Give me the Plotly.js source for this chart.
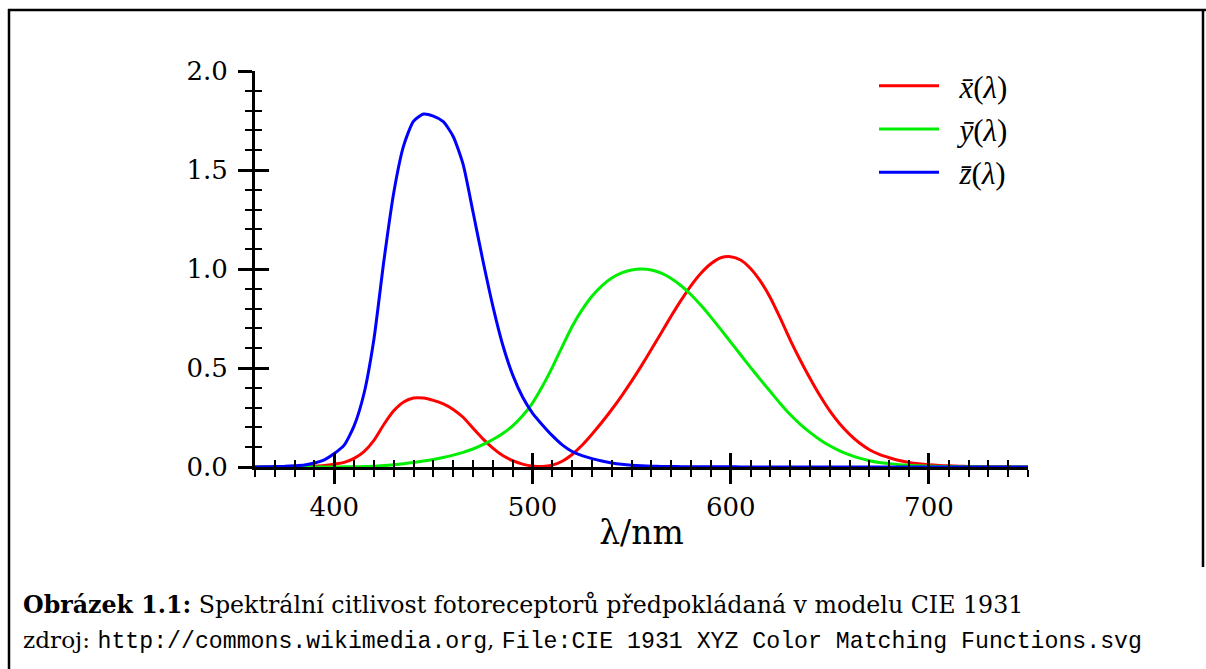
<!DOCTYPE html>
<html>
<head>
<meta charset="utf-8">
<script src="https://cdn.plot.ly/plotly-3.0.1.min.js"></script>
<style>html,body{margin:0;padding:0;background:#fff;}#chart{width:1206px;height:669px;}</style>
</head>
<body>
<div id="chart"></div>
<script>
// Wavelength (nm)
const wavelengths = [360,365,370,375,380,385,390,395,400,405,410,415,420,425,430,435,440,445,450,455,460,465,470,475,480,485,490,495,500,505,510,515,520,525,530,535,540,545,550,555,560,565,570,575,580,585,590,595,600,605,610,615,620,625,630,635,640,645,650,655,660,665,670,675,680,685,690,695,700,705,710,715,720,725,730,735,740,745,750];
// x̄(λ)
const xbar = [0.00013,0.00023,0.00042,0.00074,0.00137,0.00224,0.00424,0.00765,0.01431,0.02319,0.04351,0.07763,0.13438,0.21477,0.2839,0.3285,0.34828,0.34806,0.3362,0.3187,0.2908,0.2511,0.19536,0.1421,0.09564,0.05795,0.03201,0.0147,0.0049,0.0024,0.0093,0.0291,0.06327,0.1096,0.1655,0.22575,0.2904,0.3597,0.43345,0.51205,0.5945,0.6784,0.7621,0.8425,0.9163,0.9786,1.0263,1.0567,1.0622,1.0456,1.0026,0.9384,0.85445,0.7514,0.6424,0.5419,0.4479,0.3608,0.2835,0.2187,0.1649,0.1212,0.0874,0.0636,0.04677,0.0329,0.0227,0.01584,0.01136,0.00811,0.00579,0.00411,0.0029,0.00205,0.00144,0.001,0.00069,0.00048,0.00033];
// ȳ(λ)
const ybar = [0.000004,0.000007,0.000012,0.000022,0.000039,0.000064,0.00012,0.000217,0.000396,0.00064,0.00121,0.00218,0.004,0.0073,0.0116,0.01684,0.023,0.0298,0.038,0.048,0.06,0.0739,0.09098,0.1126,0.13902,0.1693,0.20802,0.2586,0.323,0.4073,0.503,0.6082,0.71,0.7932,0.862,0.91485,0.954,0.9803,0.99495,1.0,0.995,0.9786,0.952,0.9154,0.87,0.8163,0.757,0.6949,0.631,0.5668,0.503,0.4412,0.381,0.321,0.265,0.217,0.175,0.1382,0.107,0.0816,0.061,0.04458,0.032,0.0232,0.017,0.01192,0.00821,0.00572,0.0041,0.00293,0.00209,0.00148,0.00105,0.00074,0.00052,0.00036,0.00025,0.00017,0.00012];
// z̄(λ)
const zbar = [0.00061,0.00109,0.00195,0.00349,0.00645,0.01055,0.02005,0.03621,0.06785,0.1102,0.2074,0.3713,0.6456,1.03905,1.3856,1.62296,1.74706,1.7826,1.77211,1.7441,1.6692,1.5281,1.28764,1.0419,0.81295,0.6162,0.46518,0.3533,0.272,0.2123,0.1582,0.1117,0.07825,0.05725,0.04216,0.02984,0.0203,0.0134,0.00875,0.00575,0.0039,0.00275,0.0021,0.0018,0.00165,0.0014,0.0011,0.001,0.0008,0.0006,0.00034,0.00024,0.00019,0.0001,0.00005,0.00003,0.00002,0.00001,0,0,0,0,0,0,0,0,0,0,0,0,0,0,0,0,0,0,0,0,0];

const seriesNames = ['<i>x̄</i>(<i>λ</i>)', '<i>ȳ</i>(<i>λ</i>)', '<i>z̄</i>(<i>λ</i>)'];
const seriesColors = ['#ff0000', '#00ee00', '#0000ff'];
const xTickVals = [400, 500, 600, 700];
const yTickVals = [0, 0.5, 1.0, 1.5, 2.0];
const yTickText = ['0.0', '0.5', '1.0', '1.5', '2.0'];

const serif = '"DejaVu Serif", "Liberation Serif", serif';
const times = '"Liberation Serif", serif';

const seriesData = [xbar, ybar, zbar];
const traces = seriesData.map((vals, i) => ({
  type: 'scatter', mode: 'lines',
  x: wavelengths, y: vals,
  name: '\u2002' + seriesNames[i], legendgroup: 'g' + i,
  line: {color: seriesColors[i], width: 3, shape: 'spline', smoothing: 0.6},
  xaxis: 'x', yaxis: 'y', cliponaxis: false
}));

// plot area in pixels
const L = 255, R = 1028, T = 71, B = 467;
const W = R - L, H = B - T;
const px = v => (v - L) / W;
const py = v => (B - v) / H;

const baseX = {
  range: [360, 750], showgrid: false, zeroline: false,
  showline: true, linecolor: 'black', linewidth: 3,
  tickmode: 'array', tickvals: xTickVals,
  ticklen: 14, tickwidth: 3, tickcolor: 'black',
  minor: {dtick: 10, tick0: 0, ticklen: 7, tickwidth: 2, tickcolor: 'black'},
  fixedrange: true
};
const baseY = {
  range: [0, 2], showgrid: false, zeroline: false,
  showline: true, linecolor: 'black', linewidth: 3,
  tickmode: 'array', tickvals: yTickVals, ticktext: yTickText,
  ticklen: 14, tickwidth: 3, tickcolor: 'black',
  minor: {dtick: 0.1, tick0: 0, ticklen: 7, tickwidth: 2, tickcolor: 'black'},
  fixedrange: true
};

const layout = {
  width: 1206, height: 669,
  margin: {l: L, r: 1206 - R, t: T, b: 669 - B},
  paper_bgcolor: 'white', plot_bgcolor: 'rgba(0,0,0,0)',
  font: {family: serif, color: 'black', size: 26},
  showlegend: true,
  legend: {
    x: px(874), y: py(59), xanchor: 'left', yanchor: 'top',
    font: {family: times, size: 31, color: 'black'},
    bgcolor: 'rgba(0,0,0,0)', tracegroupgap: 0, itemwidth: 60
  },
  xaxis: Object.assign({}, baseX, {
    ticks: 'outside', minor: Object.assign({}, baseX.minor, {ticks: 'outside'}),
    tickfont: {family: serif, size: 26, color: 'black'},
    ticklabelstandoff: 1,
    title: {text: 'λ/nm', font: {family: serif, size: 33, color: 'black'}, standoff: 0}
  }),
  xaxis2: Object.assign({}, baseX, {
    overlaying: 'x', matches: 'x', anchor: 'y', side: 'bottom',
    ticks: 'inside', minor: Object.assign({}, baseX.minor, {ticks: 'inside'}),
    showticklabels: false
  }),
  yaxis: Object.assign({}, baseY, {
    ticks: 'outside', minor: Object.assign({}, baseY.minor, {ticks: 'outside'}),
    tickfont: {family: serif, size: 26, color: 'black'},
    ticklabelstandoff: 5
  }),
  yaxis2: Object.assign({}, baseY, {
    overlaying: 'y', matches: 'y', anchor: 'x', side: 'left',
    ticks: 'inside', minor: Object.assign({}, baseY.minor, {ticks: 'inside'}),
    showticklabels: false
  }),
  shapes: [
    // short continuation of the x axis left of the y axis
    {type: 'line', xref: 'x', yref: 'y', x0: 353, x1: 360, y0: 0, y1: 0, line: {color: 'black', width: 3}, layer: 'above'},
    // figure frame
    {type: 'line', xref: 'paper', yref: 'paper', x0: px(8), x1: px(1206), y0: py(10), y1: py(10), line: {color: 'black', width: 2.5}},
    {type: 'line', xref: 'paper', yref: 'paper', x0: px(9), x1: px(9), y0: py(9), y1: py(669), line: {color: 'black', width: 2.5}},
    {type: 'line', xref: 'paper', yref: 'paper', x0: px(1203), x1: px(1203), y0: py(9), y1: py(567), line: {color: 'black', width: 2.5}}
  ],
  annotations: [
    {xref: 'paper', yref: 'paper', x: px(21), y: py(605), xanchor: 'left', yanchor: 'middle', showarrow: false,
     text: '<b>Obrázek 1.1:</b> Spektrální citlivost fotoreceptorů předpokládaná v modelu CIE 1931',
     font: {family: serif, size: 23.7, color: 'black'}},
    {xref: 'paper', yref: 'paper', x: px(21), y: py(640), xanchor: 'left', yanchor: 'middle', showarrow: false,
     text: 'zdroj: <span style="font-family:\'Liberation Mono\', monospace">http://commons.wikimedia.org</span>, <span style="font-family:\'Liberation Mono\', monospace">File:CIE 1931 XYZ Color Matching Functions.svg</span>',
     font: {family: serif, size: 23.2, color: 'black'}}
  ]
};

// empty trace so the overlay axes (for crossing ticks) get drawn
traces.push({type: 'scatter', x: [], y: [], xaxis: 'x2', yaxis: 'y2', showlegend: false, hoverinfo: 'skip'});

Plotly.newPlot('chart', traces, layout, {staticPlot: true, displayModeBar: false});
</script>
</body>
</html>
